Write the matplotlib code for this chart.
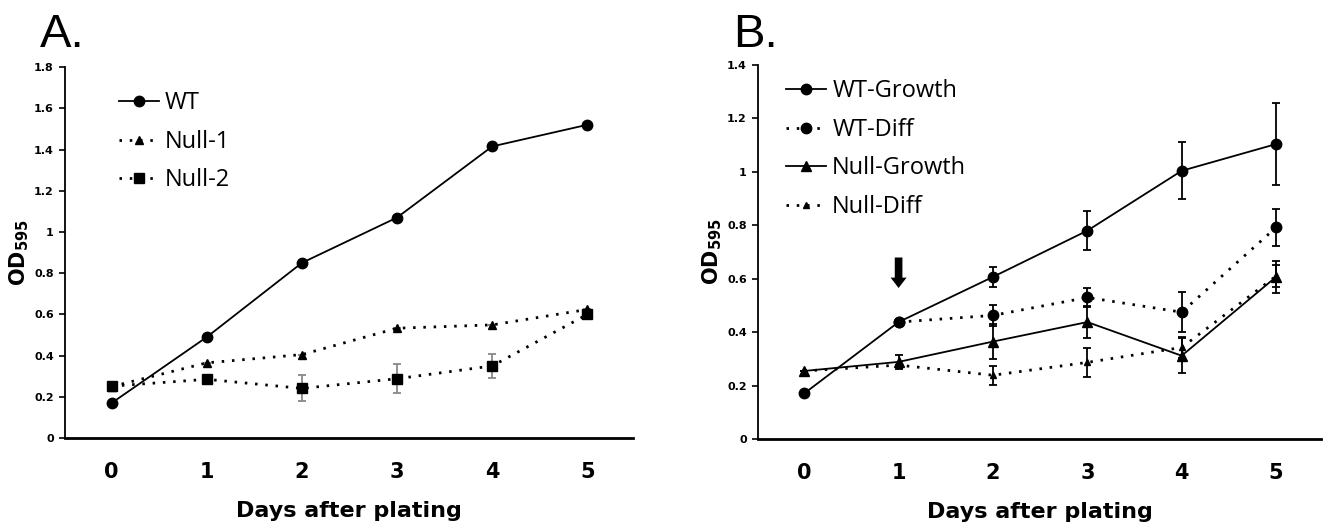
import matplotlib.pyplot as plt
from matplotlib.ticker import FuncFormatter

days = [0, 1, 2, 3, 4, 5]

# panel A
wt_a = [0.17, 0.49, 0.85, 1.07, 1.415, 1.52]
wt_a_err = [0.0, 0.0, 0.0, 0.0, 0.0, 0.0]
null1_a = [0.25, 0.365, 0.405, 0.533, 0.549, 0.624]
null1_a_err = [0.0, 0.0, 0.0, 0.0, 0.0, 0.0]
null2_a = [0.252, 0.285, 0.241, 0.288, 0.35, 0.60]
null2_a_err = [0.0, 0.0, 0.063, 0.07, 0.06, 0.0]

# panel B
wt_growth = [0.171, 0.438, 0.607, 0.78, 1.004, 1.104]
wt_growth_err = [0.0, 0.01, 0.038, 0.072, 0.107, 0.154]
wt_diff = [None, 0.438, 0.463, 0.53, 0.475, 0.792]
wt_diff_err = [0.0, 0.0, 0.038, 0.036, 0.075, 0.07]
null_growth = [0.255, 0.289, 0.365, 0.438, 0.312, 0.607]
null_growth_err = [0.0, 0.025, 0.065, 0.06, 0.066, 0.06]
null_diff = [0.255, 0.277, 0.239, 0.287, 0.343, 0.61]
null_diff_err = [0.0, 0.0, 0.035, 0.053, 0.04, 0.04]

arrow_day = 1
arrow_from, arrow_to = 0.69, 0.555

DOT = (0, (0.9, 2.8))


def fmt(v, _):
    s = f"{v:.1f}"
    return s[:-2] if s.endswith(".0") else s


def style_axes(ax, ymax):
    ax.set_xlim(-0.49, 5.48)
    ax.set_ylim(0, ymax)
    ax.spines["top"].set_visible(False)
    ax.spines["right"].set_visible(False)
    ax.spines["left"].set_linewidth(1.3)
    ax.spines["bottom"].set_linewidth(2.0)
    ax.set_xticks(days)
    ax.set_yticks([i / 5 for i in range(int(round(ymax * 5)) + 1)])
    ax.yaxis.set_major_formatter(FuncFormatter(fmt))
    ax.tick_params(axis="x", length=0, pad=17, labelsize=15)
    ax.tick_params(axis="y", length=4, width=1.2, pad=4, labelsize=8)
    for lab in ax.get_xticklabels() + ax.get_yticklabels():
        lab.set_fontfamily("DejaVu Sans")
        lab.set_fontweight("bold")
    ax.set_xlabel("Days after plating", fontsize=16, fontweight="bold",
                  family="DejaVu Sans", labelpad=14)
    ax.set_ylabel(r"$\mathbf{OD}_{\mathbf{595}}$", fontsize=15, labelpad=2)


def series(ax, y, err, marker, ls, ms, label, ecolor="black"):
    xs = [d for d, v in zip(days, y) if v is not None]
    ys = [v for v in y if v is not None]
    es = [e for e, v in zip(err, y) if v is not None]
    lw = 2.0 if ls == DOT else 1.3
    ax.errorbar(xs, ys, yerr=es, color="black", ecolor=ecolor, elinewidth=1.3,
                capsize=3, capthick=1.3, marker=marker, markersize=ms, linestyle=ls,
                linewidth=lw, label=label)


fig = plt.figure(figsize=(13.24, 5.24), dpi=100)
ax_a = fig.add_axes([0.0491, 0.164, 0.429, 0.708])
ax_b = fig.add_axes([0.5725, 0.162, 0.4255, 0.714])

series(ax_a, wt_a, wt_a_err, "o", "-", 7.5, "WT")
series(ax_a, null1_a, null1_a_err, "^", DOT, 6, "Null-1", ecolor="#888888")
series(ax_a, null2_a, null2_a_err, "s", DOT, 6.5, "Null-2", ecolor="#888888")
style_axes(ax_a, 1.8)

series(ax_b, wt_growth, wt_growth_err, "o", "-", 7.5, "WT-Growth")
series(ax_b, wt_diff, wt_diff_err, "o", DOT, 7.5, "WT-Diff")
series(ax_b, null_growth, null_growth_err, "^", "-", 7, "Null-Growth")
series(ax_b, null_diff, null_diff_err, "^", DOT, 4.5, "Null-Diff")
style_axes(ax_b, 1.4)

ax_b.annotate("", xy=(arrow_day, arrow_to), xytext=(arrow_day, arrow_from),
              arrowprops=dict(arrowstyle="simple,head_width=1.15,head_length=0.75,tail_width=0.55",
                              color="black", lw=0, mutation_scale=10))

for ax, anchor in ((ax_a, (0.095, 0.935)), (ax_b, (0.05, 0.962))):
    h, l = ax.get_legend_handles_labels()
    h = [x[0] for x in h]
    ax.legend(h, l, loc="upper left", bbox_to_anchor=anchor, frameon=False,
              prop={"family": "Open Sans", "size": 17}, handlelength=1.7,
              handletextpad=0.25, labelspacing=0.62, borderpad=0, borderaxespad=0)

fig.text(0.030, 0.91, "A.", fontsize=34, family="Liberation Sans")
fig.text(0.554, 0.91, "B.", fontsize=34, family="Liberation Sans")

fig.savefig("out.png", dpi=100)
